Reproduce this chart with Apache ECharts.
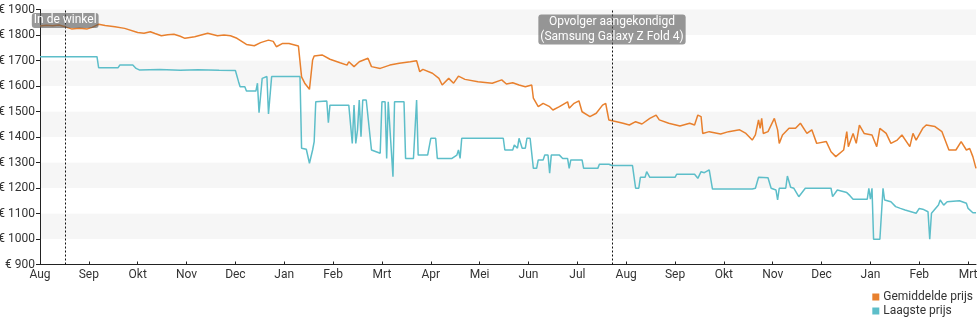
<!DOCTYPE html>
<html>
<head>
<meta charset="utf-8">
<script src="https://cdn.jsdelivr.net/npm/echarts@6/dist/echarts.min.js"></script>
<style>
  html, body { margin: 0; padding: 0; background: #fff; }
  #chart { width: 980px; height: 325px; }
</style>
</head>
<body>
<div id="chart"></div>
<script>
// Month tick labels, Aug 2021 .. Mrt 2023
const monthLabels = ['Aug','Sep','Okt','Nov','Dec','Jan','Feb','Mrt','Apr','Mei','Jun','Jul',
                     'Aug','Sep','Okt','Nov','Dec','Jan','Feb','Mrt'];

// Average price (Gemiddelde prijs)
const avgPrice = [
  ['2021-08-01',1835],['2021-08-05',1838],['2021-08-09',1836],['2021-08-13',1839],['2021-08-17',1832],
  ['2021-08-21',1824],['2021-08-26',1826],['2021-08-31',1824],['2021-09-03',1830],
  ['2021-09-07',1842],['2021-09-11',1837],['2021-09-17',1832],['2021-09-23',1826],['2021-10-01',1810],['2021-10-05',1807],
  ['2021-10-09',1813],['2021-10-12',1806],['2021-10-16',1797],['2021-10-20',1801],['2021-10-24',1803],['2021-10-28',1795],['2021-10-31',1787],['2021-11-06',1793],
  ['2021-11-10',1800],['2021-11-14',1807],['2021-11-20',1797],['2021-11-24',1800],['2021-11-28',1797],['2021-12-02',1787],['2021-12-08',1763],
  ['2021-12-13',1758],['2021-12-17',1770],['2021-12-22',1780],['2021-12-25',1775],['2021-12-27',1754],['2021-12-31',1767],
  ['2022-01-04',1767],['2022-01-10',1757],['2022-01-11',1754],['2022-01-12',1636],['2022-01-14',1611],
  ['2022-01-17',1587],['2022-01-18',1590],['2022-01-19',1702],['2022-01-20',1718],['2022-01-25',1722],
  ['2022-01-30',1705],['2022-02-05',1691],['2022-02-09',1682],['2022-02-10',1695],['2022-02-13',1676],
  ['2022-02-16',1695],['2022-02-21',1709],['2022-02-23',1676],['2022-02-28',1669],['2022-03-06',1682],
  ['2022-03-12',1689],['2022-03-19',1695],['2022-03-23',1699],['2022-03-25',1656],['2022-03-27',1665],
  ['2022-04-02',1650],['2022-04-06',1630],['2022-04-08',1604],['2022-04-12',1630],['2022-04-15',1611],
  ['2022-04-18',1639],['2022-04-22',1626],['2022-04-30',1617],['2022-05-09',1611],['2022-05-15',1624],
  ['2022-05-18',1608],['2022-05-22',1613],['2022-05-26',1604],['2022-05-30',1597],['2022-06-03',1604],
  ['2022-06-04',1552],['2022-06-07',1519],['2022-06-10',1532],['2022-06-14',1519],['2022-06-16',1506],
  ['2022-06-20',1519],['2022-06-25',1538],['2022-06-26',1513],['2022-06-29',1532],['2022-07-02',1542],
  ['2022-07-04',1499],['2022-07-09',1480],['2022-07-13',1493],['2022-07-17',1525],['2022-07-19',1532],
  ['2022-07-20',1499],['2022-07-21',1467],['2022-07-26',1460],['2022-07-30',1454],['2022-08-03',1447],
  ['2022-08-07',1460],['2022-08-11',1451],['2022-08-16',1473],['2022-08-20',1486],['2022-08-22',1467],
  ['2022-08-28',1454],['2022-09-04',1443],['2022-09-10',1454],['2022-09-13',1447],['2022-09-15',1486],
  ['2022-09-17',1480],['2022-09-18',1414],['2022-09-22',1421],['2022-09-29',1412],['2022-10-04',1421],
  ['2022-10-11',1428],['2022-10-15',1414],['2022-10-19',1388],['2022-10-21',1408],['2022-10-23',1467],
  ['2022-10-24',1434],['2022-10-25',1473],['2022-10-26',1414],['2022-10-29',1421],['2022-11-02',1473],
  ['2022-11-04',1428],['2022-11-05',1375],['2022-11-07',1408],['2022-11-11',1434],['2022-11-15',1434],
  ['2022-11-18',1454],['2022-11-22',1414],['2022-11-25',1428],['2022-11-28',1375],['2022-12-04',1382],
  ['2022-12-07',1342],['2022-12-10',1323],['2022-12-15',1349],['2022-12-17',1421],['2022-12-18',1362],
  ['2022-12-21',1414],['2022-12-23',1375],['2022-12-25',1447],['2022-12-28',1414],['2023-01-02',1408],
  ['2023-01-05',1362],['2023-01-07',1434],['2023-01-11',1414],['2023-01-14',1375],['2023-01-18',1388],
  ['2023-01-21',1408],['2023-01-26',1362],['2023-01-28',1414],['2023-01-30',1388],['2023-02-03',1434],
  ['2023-02-05',1447],['2023-02-10',1441],['2023-02-14',1421],['2023-02-18',1349],['2023-02-22',1349],
  ['2023-02-25',1382],['2023-02-28',1349],['2023-03-02',1355],['2023-03-04',1323],['2023-03-06',1277]
];

// Lowest price (Laagste prijs)
const lowPrice = [
  ['2021-08-01',1715],['2021-09-06',1715],['2021-09-07',1672],['2021-09-19',1672],['2021-09-20',1682],
  ['2021-09-28',1682],['2021-09-30',1669],['2021-10-02',1663],['2021-10-15',1665],['2021-10-28',1662],
  ['2021-11-08',1664],['2021-11-21',1662],['2021-12-01',1661],['2021-12-03',1617],['2021-12-04',1597],
  ['2021-12-07',1597],['2021-12-08',1580],['2021-12-14',1580],['2021-12-15',1611],['2021-12-16',1495],
  ['2021-12-18',1630],['2021-12-21',1637],['2021-12-22',1490],['2021-12-24',1637],['2022-01-11',1637],
  ['2022-01-12',1356],['2022-01-15',1352],['2022-01-17',1297],['2022-01-19',1349],['2022-01-20',1382],
  ['2022-01-21',1538],['2022-01-28',1541],['2022-01-29',1456],['2022-01-30',1525],['2022-02-10',1525],
  ['2022-02-12',1375],['2022-02-13',1525],['2022-02-14',1375],['2022-02-15',1428],['2022-02-16',1545],
  ['2022-02-17',1401],['2022-02-18',1545],['2022-02-20',1545],['2022-02-23',1349],['2022-02-28',1336],
  ['2022-03-01',1538],['2022-03-03',1538],['2022-03-04',1316],['2022-03-05',1538],['2022-03-08',1244],
  ['2022-03-09',1538],['2022-03-15',1538],['2022-03-16',1316],['2022-03-21',1316],['2022-03-23',1545],
  ['2022-03-24',1329],['2022-03-30',1329],['2022-04-01',1395],['2022-04-04',1395],['2022-04-05',1316],
  ['2022-04-14',1316],['2022-04-17',1329],['2022-04-18',1349],['2022-04-19',1316],['2022-04-20',1395],
  ['2022-05-16',1395],['2022-05-17',1349],['2022-05-22',1349],['2022-05-23',1369],['2022-05-25',1356],
  ['2022-05-26',1395],['2022-05-28',1356],['2022-05-30',1356],['2022-05-31',1395],['2022-06-02',1395],
  ['2022-06-04',1277],['2022-06-06',1277],['2022-06-07',1310],['2022-06-10',1310],['2022-06-11',1329],
  ['2022-06-13',1329],['2022-06-14',1258],['2022-06-15',1329],['2022-06-20',1329],['2022-06-22',1316],
  ['2022-06-25',1316],['2022-06-26',1277],['2022-06-27',1310],['2022-07-04',1310],['2022-07-05',1277],
  ['2022-07-14',1277],['2022-07-15',1293],['2022-07-21',1293],['2022-07-23',1288],['2022-08-05',1288],
  ['2022-08-07',1199],['2022-08-09',1199],['2022-08-10',1242],['2022-08-13',1242],['2022-08-14',1264],
  ['2022-08-16',1242],['2022-09-01',1242],['2022-09-02',1254],['2022-09-13',1254],['2022-09-15',1238],
  ['2022-09-17',1264],['2022-09-19',1260],['2022-09-22',1271],['2022-09-23',1266],['2022-09-24',1196],
  ['2022-10-19',1196],['2022-10-21',1199],['2022-10-23',1242],['2022-10-29',1240],['2022-10-31',1199],
  ['2022-11-03',1192],['2022-11-04',1153],['2022-11-05',1199],['2022-11-09',1199],['2022-11-10',1247],
  ['2022-11-11',1247],['2022-11-12',1203],['2022-11-14',1199],['2022-11-17',1166],['2022-11-21',1199],
  ['2022-12-07',1199],['2022-12-08',1166],['2022-12-11',1192],['2022-12-17',1182],['2022-12-19',1170],
  ['2022-12-21',1156],['2022-12-30',1156],['2022-12-31',1199],['2023-01-01',1156],['2023-01-02',1199],
  ['2023-01-03',999],['2023-01-07',999],['2023-01-09',1199],['2023-01-10',1153],['2023-01-14',1146],
  ['2023-01-17',1127],['2023-01-20',1120],['2023-01-23',1114],['2023-01-30',1101],['2023-02-01',1120],
  ['2023-02-03',1117],['2023-02-06',1107],['2023-02-07',999],['2023-02-08',1101],['2023-02-12',1133],
  ['2023-02-13',1153],['2023-02-15',1133],['2023-02-17',1146],['2023-02-24',1150],['2023-02-28',1140],
  ['2023-03-01',1120],['2023-03-02',1127],['2023-03-04',1103],['2023-03-06',1103]
];

// Event markers
const events = [
  { date: '2021-08-17', text: 'In de winkel', labelAt: 1857 },
  { date: '2022-07-23', text: 'Opvolger aangekondigd\n(Samsung Galaxy Z Fold 4)', labelAt: 1822 }
];

const startDate = '2021-08-01';
const endDate = '2023-03-06';

// Months are spaced evenly: position = month index + fraction of that month
function monthPos(s) {
  const [y, m, d] = s.split('-').map(Number);
  const dim = new Date(y, m, 0).getDate();
  return (y - 2021) * 12 + (m - 8) + (d - 1) / dim;
}
const toPoints = arr => arr.map(([d, v]) => [monthPos(d), v]);
const tickPositions = monthLabels.map((_, i) => i);

const chart = echarts.init(document.getElementById('chart'), null, { renderer: 'canvas' });

const labelBox = {
  show: true,
  position: 'inside',
  color: '#fff',
  fontSize: 12,
  lineHeight: 15,
  fontFamily: 'Roboto',
  backgroundColor: 'rgba(85,85,85,0.6)',
  borderRadius: 3,
  padding: [0, 2]
};

chart.setOption({
  animation: false,
  textStyle: { fontFamily: 'Roboto' },
  grid: { left: 40, right: 4, top: 9.5, bottom: 60.5, containLabel: false, outerBoundsMode: 'none' },
  legend: {
    orient: 'vertical',
    right: 7,
    top: 290,
    padding: 0,
    align: 'left',
    icon: 'rect',
    itemWidth: 7,
    itemHeight: 7,
    itemGap: 0,
    textStyle: { color: '#333', fontSize: 12, lineHeight: 14, padding: [0, 0, 0, -1] },
    data: ['Gemiddelde prijs', 'Laagste prijs']
  },
  xAxis: {
    type: 'value',
    min: monthPos(startDate),
    max: monthPos(endDate),
    axisLine: { show: true, lineStyle: { color: '#222', width: 1 } },
    axisTick: { show: true, inside: true, length: 3, customValues: tickPositions, lineStyle: { color: '#222' } },
    axisLabel: {
      customValues: tickPositions,
      formatter: v => monthLabels[Math.round(v)],
      color: '#333', fontSize: 12, margin: 4
    },
    splitLine: { show: false }
  },
  yAxis: {
    type: 'value',
    min: 900,
    max: 1900,
    interval: 100,
    axisLine: { show: true, lineStyle: { color: '#222', width: 1 } },
    axisTick: { show: true, length: 4, lineStyle: { color: '#222' } },
    axisLabel: { formatter: v => '€ ' + v, color: '#333', fontSize: 12, margin: 5 },
    splitLine: { show: false },
    splitArea: { show: true, areaStyle: { color: ['#ffffff', '#f6f6f6'] } }
  },
  series: [
    {
      name: 'Gemiddelde prijs',
      type: 'line',
      data: toPoints(avgPrice),
      showSymbol: false,
      lineStyle: { color: '#e8802e', width: 1.5 },
      itemStyle: { color: '#e8802e' },
      z: 3,
      markLine: {
        silent: true,
        symbol: 'none',
        label: { show: false },
        lineStyle: { color: '#111', type: [2, 2], width: 1 },
        data: events.map(e => ({ xAxis: monthPos(e.date) }))
      },
      markPoint: {
        silent: true,
        symbol: 'rect',
        symbolSize: 0,
        label: labelBox,
        data: events.map(e => ({ coord: [monthPos(e.date), e.labelAt], value: e.text }))
      }
    },
    {
      name: 'Laagste prijs',
      type: 'line',
      data: toPoints(lowPrice),
      showSymbol: false,
      lineStyle: { color: '#5dbec9', width: 1.5 },
      itemStyle: { color: '#5dbec9' },
      z: 2
    }
  ]
});
</script>
</body>
</html>
